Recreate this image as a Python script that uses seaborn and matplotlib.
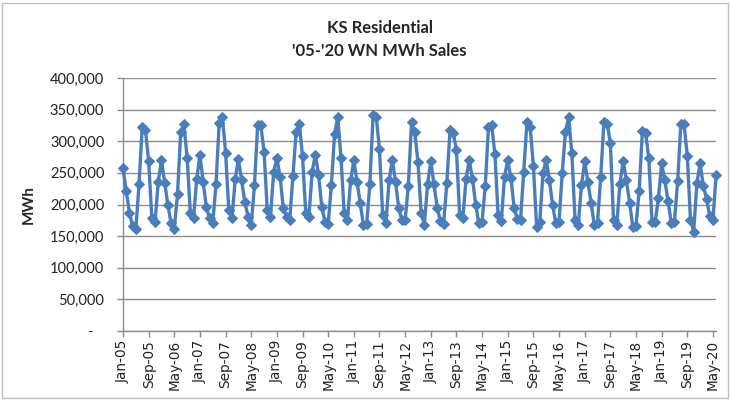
import numpy as np
import pandas as pd
import matplotlib
matplotlib.use("Agg")
import matplotlib.pyplot as plt
from matplotlib.patches import Rectangle
from matplotlib.ticker import FuncFormatter
import seaborn as sns

# Weather-normalized monthly residential sales (MWh), Jan 2005 - Jun 2020
sales_2005 = [257000, 222000, 187000, 166000, 161000, 232000, 323000, 318000, 268000, 178000, 173000, 236000]
sales_2006 = [270000, 234000, 199000, 170000, 162000, 216000, 315000, 327000, 274000, 186000, 178000, 241000]
sales_2007 = [278000, 236000, 196000, 178000, 171000, 232000, 329000, 339000, 282000, 191000, 178000, 240000]
sales_2008 = [272000, 238000, 204000, 181000, 167000, 231000, 326000, 325000, 283000, 191000, 181000, 252000]
sales_2009 = [273000, 244000, 194000, 181000, 175000, 245000, 315000, 328000, 276000, 186000, 181000, 252000]
sales_2010 = [279000, 247000, 196000, 173000, 169000, 231000, 312000, 338000, 273000, 186000, 175000, 238000]
sales_2011 = [270000, 236000, 202000, 167000, 169000, 233000, 341000, 338000, 287000, 183000, 171000, 238000]
sales_2012 = [271000, 236000, 194000, 175000, 175000, 230000, 330000, 314000, 267000, 186000, 168000, 233000]
sales_2013 = [268000, 232000, 195000, 174000, 169000, 234000, 318000, 313000, 286000, 183000, 178000, 241000]
sales_2014 = [270000, 241000, 200000, 170000, 173000, 230000, 323000, 325000, 280000, 183000, 174000, 244000]
sales_2015 = [270000, 242000, 194000, 177000, 176000, 252000, 330000, 322000, 261000, 165000, 173000, 250000]
sales_2016 = [271000, 238000, 199000, 170000, 173000, 250000, 315000, 338000, 281000, 175000, 167000, 231000]
sales_2017 = [268000, 236000, 203000, 167000, 171000, 243000, 331000, 328000, 298000, 175000, 168000, 233000]
sales_2018 = [269000, 238000, 203000, 165000, 166000, 222000, 316000, 313000, 273000, 173000, 173000, 210000]
sales_2019 = [265000, 238000, 206000, 171000, 173000, 237000, 328000, 327000, 277000, 176000, 157000, 234000]
sales_2020 = [265000, 230000, 209000, 182000, 176000, 247000]

tick_labels = ["Jan-05", "Sep-05", "May-06", "Jan-07", "Sep-07", "May-08", "Jan-09", "Sep-09",
               "May-10", "Jan-11", "Sep-11", "May-12", "Jan-13", "Sep-13", "May-14", "Jan-15",
               "Sep-15", "May-16", "Jan-17", "Sep-17", "May-18", "Jan-19", "Sep-19", "May-20"]
y_ticks = [0, 50000, 100000, 150000, 200000, 250000, 300000, 350000, 400000]

sales = (sales_2005 + sales_2006 + sales_2007 + sales_2008 + sales_2009 + sales_2010 +
         sales_2011 + sales_2012 + sales_2013 + sales_2014 + sales_2015 + sales_2016 +
         sales_2017 + sales_2018 + sales_2019 + sales_2020)
df = pd.DataFrame({"month": np.arange(len(sales)), "MWh": sales})

sns.set_theme(style="white")
plt.rcParams["font.family"] = ["Lato", "DejaVu Sans"]

blue = "#4A7EBB"
grid_gray = "#8C8C8C"

fig = plt.figure(figsize=(7.3, 4.0), dpi=100)
fig.patch.set_facecolor("white")
fig.patches.append(Rectangle((0.003, 0.004), 0.994, 0.988, transform=fig.transFigure,
                             fill=False, edgecolor="#BFBFBF", linewidth=1.0))

ax = fig.add_axes([0.1685, 0.1725, 0.8125, 0.6325])
sns.lineplot(data=df, x="month", y="MWh", ax=ax, color=blue, linewidth=2.4,
             marker="D", markersize=5.5, markeredgecolor=blue, markerfacecolor=blue,
             clip_on=False, zorder=3)

ax.set_xlim(0, len(sales) - 1)
ax.set_ylim(0, 400000)
ax.set_yticks(y_ticks)
ax.yaxis.set_major_formatter(FuncFormatter(lambda v, p: "-   " if v == 0 else f"{int(v):,}"))
ax.set_xticks(np.arange(0, 8 * len(tick_labels), 8))
ax.set_xticklabels(tick_labels, rotation=90, fontfamily="DejaVu Sans", fontsize=9.8)

ax.grid(axis="y", color=grid_gray, linewidth=1.0)
ax.grid(axis="x", visible=False)
ax.set_axisbelow(True)
for side in ["top", "right"]:
    ax.spines[side].set_visible(False)
for side in ["left", "bottom"]:
    ax.spines[side].set_color(grid_gray)
    ax.spines[side].set_linewidth(1.0)

ax.tick_params(axis="y", which="major", length=4.5, width=1, color=grid_gray,
               labelsize=10.5, pad=9, left=True, labelcolor="#222222")
ax.tick_params(axis="x", which="major", length=4.5, width=1, color=grid_gray,
               pad=2, bottom=True, labelcolor="#222222")

ax.set_xlabel("")
ax.set_ylabel("MWh", fontsize=11, fontweight="bold", labelpad=10)

fig.text(0.52, 0.93, "KS Residential", ha="center", va="center",
         fontsize=12, fontweight="bold")
fig.text(0.52, 0.873, "'05-'20 WN MWh Sales", ha="center", va="center",
         fontsize=12, fontweight="bold")

fig.savefig("out.png", dpi=100, facecolor="white")
